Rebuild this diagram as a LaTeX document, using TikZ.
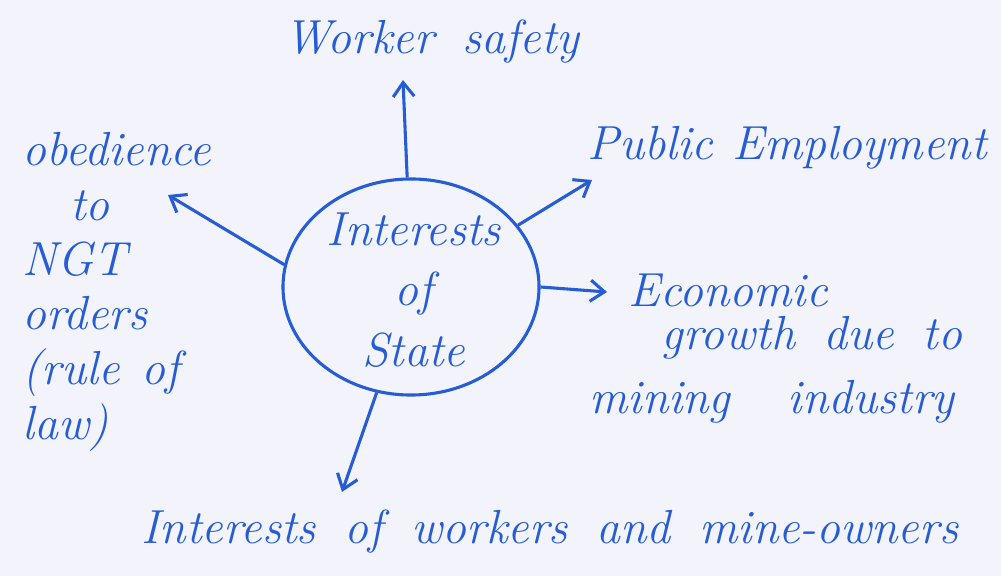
\documentclass[tikz,border=0pt]{standalone}
\usepackage{xcolor}
\usepackage{tikz}
\usetikzlibrary{shapes.geometric,arrows.meta,positioning}

\definecolor{ink}{RGB}{38,92,212}
\definecolor{paper}{RGB}{243,244,251}
\newcommand\handgap[1]{\spaceskip #1\relax}

\begin{document}
\begin{tikzpicture}[
    x=0.025cm, y=-0.025cm,
    hand/.style={text=ink, font=\fontsize{34}{39}\selectfont\itshape\handgap{#1}, inner sep=0pt},
    hand/.default=0.6em,
    bubble/.style={ellipse, draw=ink, line width=2.2pt, minimum width=6.4cm, minimum height=5.4cm},
    arrow/.style={-{Straight Barb[length=10pt,width=15pt,line width=2.2pt]}, ink, line width=2.2pt}
]
    % page
    \fill[paper] (0,0) rectangle (1001,576);
    \useasboundingbox (0,0) rectangle (1001,576);

    \node[bubble] (state) at (411,287) {};
    \node[hand, align=center] (statetext) at (414,290) {Interests\\[4pt]of\\[4pt]State};

    \node[hand] (safety) at (432,42) {Worker safety};
    \node[hand=0.4em] (employ) at (787,148) {Public Employment};
    \node[hand] (econ) at (728,290) {Economic};
    \node[hand] (growth) at (812,338) {growth due to};
    \node[hand=1.2em] (mining) at (772,402) {mining industry};
    \node[hand=0.45em, align=left, anchor=north west] (obey) at (22,132)
        {obedience\\\quad to\\NGT\\orders\\(rule of\\law)};
    \node[hand] (parties) at (550,532) {Interests of workers and mine-owners};

    \coordinate (safetytip) at (403,80);
    \coordinate (employtip) at (592,180);
    \coordinate (econtip) at (607,292);
    \coordinate (obeytip) at (168,195);
    \coordinate (partiestip) at (342,492);

    \draw[arrow] (state.92) -- (safetytip);
    \draw[arrow] (state.30) -- (employtip);
    \draw[arrow] (state.0) -- (econtip);
    \draw[arrow] (state.170) -- (obeytip);
    \draw[arrow] (state.252) -- (partiestip);
\end{tikzpicture}
\end{document}
